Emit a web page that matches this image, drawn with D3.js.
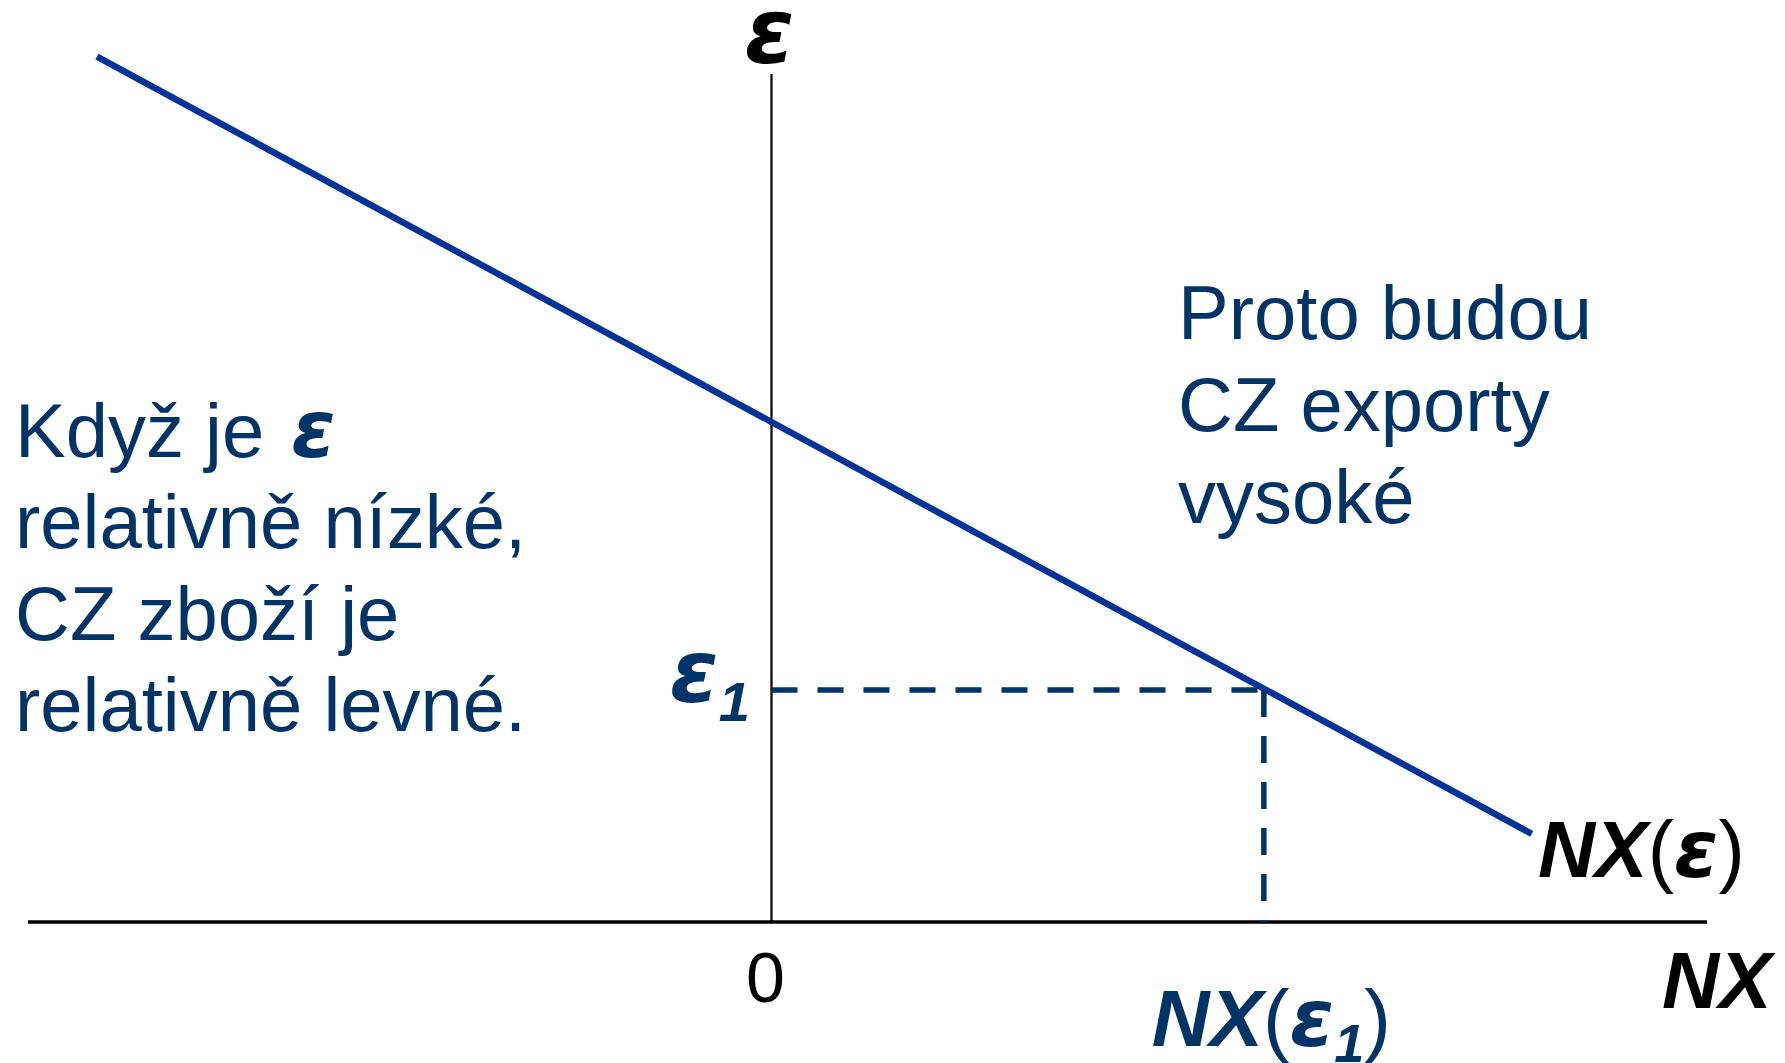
<!DOCTYPE html>
<html>
<head>
<meta charset="utf-8">
<script src="https://cdn.jsdelivr.net/npm/d3@7"></script>
<style>
  html, body { margin: 0; padding: 0; background: #fff; }
  svg { display: block; }
  text { font-family: "Liberation Sans", Arial, sans-serif; }
  .eps { font-family: "DejaVu Sans", sans-serif; font-weight: bold; font-style: italic; }
</style>
</head>
<body>
<svg id="chart" width="1785" height="1063"></svg>
<script>
// ---- data (model units) ----
const nxDomain = [-7.55, 9.5];        // NX axis extent (0 = vertical axis)
const epsDomain = [0, 7.31];          // ε axis extent
const curveNX = [-6.85, 7.72];        // NX(ε) line endpoints, NX values
const curveEps = [7.46, 0.76];        // NX(ε) line endpoints, ε values
const eps1 = 2.0;                     // ε1
const nx1 = 5.0;                      // NX(ε1)
const zeroTick = [0];
const leftText = ["Když je ", "relativně nízké,", "CZ zboží je", "relativně levné."];
const rightText = ["Proto budou", "CZ exporty", "vysoké"];

// ---- layout ----
const svg = d3.select("#chart");
const x = d3.scaleLinear().domain(nxDomain).range([28, 1707]);
const y = d3.scaleLinear().domain(epsDomain).range([922, 74]);

const navy = "#003366";
const blue = "#003399";

// axes
svg.append("line")
  .attr("x1", x(nxDomain[0])).attr("x2", x(nxDomain[1]))
  .attr("y1", y(0)).attr("y2", y(0))
  .attr("stroke", "#000").attr("stroke-width", 3.5);
svg.append("line")
  .attr("x1", x(0)).attr("x2", x(0))
  .attr("y1", y(epsDomain[1])).attr("y2", y(0))
  .attr("stroke", "#000").attr("stroke-width", 2.2);

// dashed guides
svg.append("line")
  .attr("x1", x(0)).attr("x2", x(nx1))
  .attr("y1", y(eps1)).attr("y2", y(eps1))
  .attr("stroke", navy).attr("stroke-width", 5.5)
  .attr("stroke-dasharray", "26,20");
svg.append("line")
  .attr("x1", x(nx1)).attr("x2", x(nx1))
  .attr("y1", y(eps1)).attr("y2", y(0))
  .attr("stroke", navy).attr("stroke-width", 5.5)
  .attr("stroke-dasharray", "27,19");

// NX(ε) curve
const pts = curveNX.map((v, i) => [v, curveEps[i]]);
svg.append("path")
  .datum(pts)
  .attr("d", d3.line().x(d => x(d[0])).y(d => y(d[1])))
  .attr("fill", "none").attr("stroke", blue).attr("stroke-width", 6.5);

// zero tick label
svg.selectAll("text.zero").data(zeroTick).enter().append("text")
  .attr("class", "zero")
  .attr("x", d => x(d) - 6).attr("y", 1002)
  .attr("text-anchor", "middle")
  .attr("font-size", 70).attr("fill", "#000")
  .text(d => d);

// axis labels
svg.append("text")
  .attr("class", "eps")
  .attr("x", x(0) - 2).attr("y", 63)
  .attr("text-anchor", "middle")
  .attr("font-size", 90)
  .attr("fill", "#000").text("ε");

svg.append("text")
  .attr("x", 1662).attr("y", 1008)
  .attr("font-size", 79).attr("font-weight", "bold").attr("font-style", "italic")
  .attr("fill", "#000").text("NX");

// curve label NX(ε)
const cl = svg.append("text")
  .attr("x", 1538).attr("y", 877)
  .attr("font-size", 79).attr("fill", "#000");
cl.append("tspan").attr("font-weight", "bold").attr("font-style", "italic").text("NX");
cl.append("tspan").text("(");
cl.append("tspan").attr("class", "eps").attr("font-size", 80).text("ε");
cl.append("tspan").text(")");

// ε1 label
const e1 = svg.append("text")
  .attr("x", 750).attr("y", y(eps1) + 12)
  .attr("text-anchor", "end")
  .attr("font-weight", "bold").attr("font-style", "italic")
  .attr("fill", navy);
e1.append("tspan").attr("class", "eps").attr("font-size", 88).text("ε");
e1.append("tspan").attr("font-size", 56).attr("dy", 19).text("1");

// NX(ε1) label
const n1 = svg.append("text")
  .attr("x", x(nx1) - 112).attr("y", 1046)
  .attr("font-size", 80).attr("fill", navy);
n1.append("tspan").attr("font-weight", "bold").attr("font-style", "italic").text("NX");
n1.append("tspan").text("(");
n1.append("tspan").attr("class", "eps").attr("font-size", 80).text("ε");
n1.append("tspan").attr("font-weight", "bold").attr("font-style", "italic")
  .attr("font-size", 54).attr("dy", 16).text("1");
n1.append("tspan").attr("dy", -16).text(")");

// left explanatory text
const lt = svg.append("g");
leftText.forEach((t, i) => {
  const tx = lt.append("text")
    .attr("x", 15).attr("y", 457 + i * 91.3)
    .attr("font-size", 76).attr("fill", navy);
  tx.append("tspan").text(t);
  if (i === 0) {
    tx.append("tspan").attr("class", "eps").attr("font-size", 80).attr("dx", 6).text("ε");
  }
});

// right explanatory text
rightText.forEach((t, i) => {
  svg.append("text")
    .attr("x", 1178).attr("y", 339 + i * 92)
    .attr("font-size", 76).attr("fill", navy)
    .text(t);
});
</script>
</body>
</html>
